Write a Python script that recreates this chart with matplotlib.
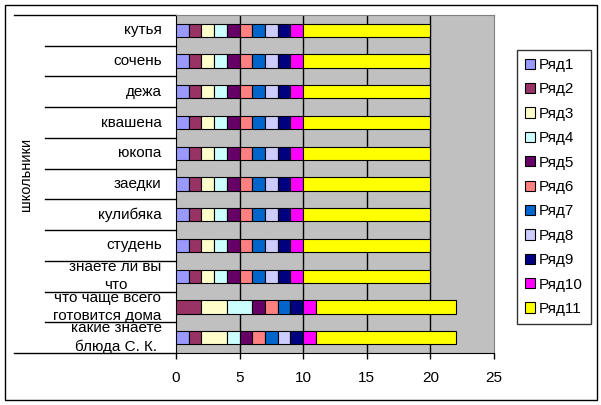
import matplotlib
matplotlib.use("Agg")
import matplotlib.pyplot as plt
from matplotlib.patches import Rectangle
import numpy as np

plt.rcParams['font.family'] = ['Liberation Sans', 'DejaVu Sans']

# categories, bottom to top
categories = ['какие знаете\nблюда С. К.', 'что чаще всего\nготовится дома',
              'знаете ли вы\nчто', 'студень', 'кулибяка', 'заедки', 'юкопа',
              'квашена', 'дежа', 'сочень', 'кутья']
series_names = ['Ряд1', 'Ряд2', 'Ряд3', 'Ряд4', 'Ряд5', 'Ряд6',
                'Ряд7', 'Ряд8', 'Ряд9', 'Ряд10', 'Ряд11']
colors = ['#9999FF', '#993366', '#FFFFCC', '#CCFFFF', '#660066', '#FF8080',
          '#0066CC', '#CCCCFF', '#000080', '#FF00FF', '#FFFF00']

# values per series, one per category (bottom to top)
r1 = [1, 0, 1, 1, 1, 1, 1, 1, 1, 1, 1]
r2 = [1, 2, 1, 1, 1, 1, 1, 1, 1, 1, 1]
r3 = [2, 2, 1, 1, 1, 1, 1, 1, 1, 1, 1]
r4 = [1, 2, 1, 1, 1, 1, 1, 1, 1, 1, 1]
r5 = [1, 1, 1, 1, 1, 1, 1, 1, 1, 1, 1]
r6 = [1, 1, 1, 1, 1, 1, 1, 1, 1, 1, 1]
r7 = [1, 1, 1, 1, 1, 1, 1, 1, 1, 1, 1]
r8 = [1, 0, 1, 1, 1, 1, 1, 1, 1, 1, 1]
r9 = [1, 1, 1, 1, 1, 1, 1, 1, 1, 1, 1]
r10 = [1, 1, 1, 1, 1, 1, 1, 1, 1, 1, 1]
r11 = [11, 11, 10, 10, 10, 10, 10, 10, 10, 10, 10]
series = [r1, r2, r3, r4, r5, r6, r7, r8, r9, r10, r11]

fig = plt.figure(figsize=(6.01, 4.05), dpi=100)
ax = fig.add_axes([176 / 601, 1 - 353 / 405, 318 / 601, 338 / 405])
ax.set_facecolor('#C0C0C0')

y = np.arange(len(categories))
left = np.zeros(len(categories))
for name, vals, c in zip(series_names, series, colors):
    vals = np.array(vals, dtype=float)
    ax.barh(y, vals, left=left, height=0.43, color=c, edgecolor='black',
            linewidth=0.8, label=name, zorder=3)
    left += vals

ax.set_xlim(0, 25)
ax.set_ylim(-0.5, len(categories) - 0.5)
ax.set_xticks(range(0, 26, 5))
ax.tick_params(axis='x', labelsize=11, length=4, width=1, pad=9)
ax.set_yticks([])
for xv in range(5, 25, 5):
    ax.axvline(xv, color='black', linewidth=1, zorder=1)

for s in ['left', 'bottom']:
    ax.spines[s].set_color('black')
for s in ['right', 'top']:
    ax.spines[s].set_color('#808080')

# category labels and divider lines
for i, lab in enumerate(categories):
    ax.text(-0.045, i, lab, transform=ax.get_yaxis_transform(), ha='right',
            va='center', fontsize=11, multialignment='center', linespacing=1.35)
for i in range(len(categories) + 1):
    yy = i - 0.5
    x0 = -0.509 if i in (0, len(categories)) else -0.412
    ax.plot([x0, 0], [yy, yy], color='black', linewidth=1,
            transform=ax.get_yaxis_transform(), clip_on=False)

fig.text(26 / 601, 1 - 174 / 405, 'школьники', rotation=90, ha='center',
         va='center', fontsize=10.5)

leg = ax.legend(loc='center left', bbox_to_anchor=(517 / 601, 1 - 187 / 405),
                bbox_transform=fig.transFigure, fontsize=11, frameon=True,
                fancybox=False, edgecolor='black', handlelength=0.65,
                handleheight=0.65, handletextpad=0.3, labelspacing=0.68,
                borderpad=0.5, borderaxespad=0)
leg.get_frame().set_linewidth(1)

fig.patches.append(Rectangle((5 / 601, 5 / 405), 592 / 601, 395 / 405,
                             transform=fig.transFigure, fill=False,
                             edgecolor='black', linewidth=1))

fig.savefig('out.png', dpi=100)
